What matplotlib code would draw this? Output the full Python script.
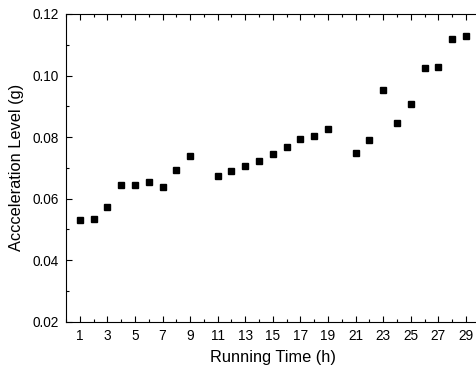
import matplotlib
matplotlib.use("Agg")
import matplotlib.pyplot as plt
from matplotlib.ticker import MultipleLocator

plt.rcParams['font.family'] = ['Liberation Sans', 'DejaVu Sans']

# running time (h) and measured acceleration level (g)
hours = [1, 2, 3, 4, 5, 6, 7, 8, 9,
         11, 12, 13, 14, 15, 16, 17, 18, 19,
         21, 22, 23, 24, 25, 26, 27, 28, 29]
accel = [0.0529, 0.0534, 0.0573, 0.0643, 0.0643, 0.0654, 0.0637, 0.0693, 0.0740,
         0.0674, 0.0690, 0.0707, 0.0722, 0.0744, 0.0768, 0.0793, 0.0804, 0.0826,
         0.0748, 0.0792, 0.0952, 0.0847, 0.0906, 0.1024, 0.1029, 0.1118, 0.1128]

fig = plt.figure(figsize=(4.77, 3.71), dpi=100)
ax = fig.add_axes([0.1384, 0.1329, 1.0057 - 0.1384, 0.9623 - 0.1329])

ax.plot(hours, accel, ls='', marker='s', ms=5, color='black')

ax.set_xlim(0, 30)
ax.set_ylim(0.02, 0.12)
ax.set_xticks(range(1, 30, 2))
ax.xaxis.set_minor_locator(MultipleLocator(1))
ax.yaxis.set_major_locator(MultipleLocator(0.02))
ax.yaxis.set_minor_locator(MultipleLocator(0.01))
ax.yaxis.set_major_formatter(plt.FormatStrFormatter('%.2f'))

ax.tick_params(which='both', direction='in', labelsize=9.8, width=0.8, top=True)
ax.tick_params(which='major', length=4.5, pad=5)
ax.tick_params(which='minor', length=2.5)
ax.spines['right'].set_visible(False)
for s in ['left', 'bottom', 'top']:
    ax.spines[s].set_linewidth(0.8)

ax.set_xlabel('Running Time (h)', fontsize=11.8, labelpad=5)
ax.set_ylabel('Accceleration Level (g)', fontsize=11.8, labelpad=6)

fig.savefig('out.png', dpi=100)
